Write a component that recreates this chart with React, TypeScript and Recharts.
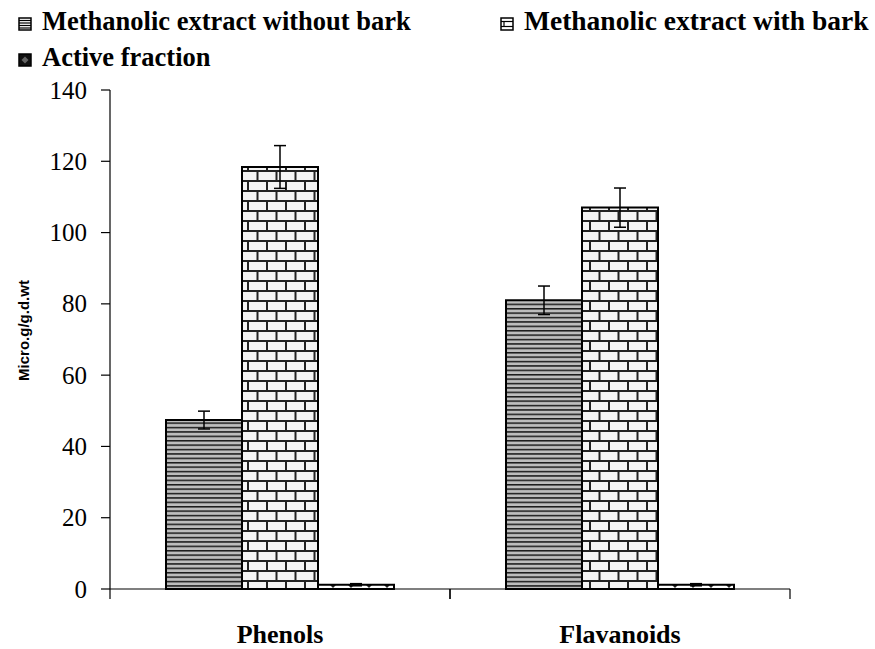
import React from "react";
import { Bar, BarChart, ErrorBar, XAxis, YAxis } from "recharts";

const categories = ["Phenols", "Flavanoids"];
const withoutBark = [47.4, 81.0];
const withoutBarkErr = [2.5, 4.0];
const withBark = [118.4, 107.0];
const withBarkErr = [6.0, 5.5];
const activeFraction = [1.2, 1.2];
const activeFractionErr = [0.3, 0.3];
const yTicks = [0, 20, 40, 60, 80, 100, 120, 140];

const series = [
  { key: "withoutBark", name: "Methanolic extract without bark", fill: "url(#hlines)" },
  { key: "withBark", name: "Methanolic extract with bark", fill: "url(#bricks)" },
  { key: "active", name: "Active fraction", fill: "url(#dots)" },
];

const data = categories.map((name, i) => ({
  name,
  withoutBark: withoutBark[i],
  withoutBarkErr: withoutBarkErr[i],
  withBark: withBark[i],
  withBarkErr: withBarkErr[i],
  active: activeFraction[i],
  activeErr: activeFractionErr[i],
}));

const serif = "'Liberation Serif', 'Times New Roman', serif";
const sans = "'Liberation Sans', Arial, sans-serif";

const PatternDefs = () => (
  <defs>
    <pattern id="hlines" patternUnits="userSpaceOnUse" width={8} height={4.4}>
      <rect width={8} height={4.4} fill="#bdbdbd" />
      <rect y={0} width={8} height={1.5} fill="#1a1a1a" />
    </pattern>
    <pattern id="bricks" patternUnits="userSpaceOnUse" width={19} height={20}>
      <rect width={19} height={20} fill="#f4f4f4" />
      <rect y={0} width={19} height={2} fill="#222" />
      <rect y={10} width={19} height={2} fill="#222" />
      <rect x={0} y={0} width={2} height={10} fill="#222" />
      <rect x={9.5} y={10} width={2} height={10} fill="#222" />
    </pattern>
    <pattern id="dots" patternUnits="userSpaceOnUse" width={18} height={6}>
      <rect width={18} height={6} fill="#fff" />
      <path d="M9 0 L12 3 L9 6 L6 3 Z" fill="#222" />
    </pattern>
  </defs>
);

const LegendIcon = ({ kind }: { kind: number }) => (
  <svg width={14} height={14} style={{ marginRight: 10, verticalAlign: "-1px" }}>
    {kind === 0 && (
      <g>
        <rect x={1} y={1} width={12} height={12} fill="#fff" stroke="#000" strokeWidth={1.5} />
        {[3.5, 6, 8.5, 11].map((yy) => (
          <line key={yy} x1={1} x2={13} y1={yy} y2={yy} stroke="#000" strokeWidth={1.2} />
        ))}
      </g>
    )}
    {kind === 1 && (
      <g>
        <rect x={1} y={1} width={12} height={12} fill="#fff" stroke="#000" strokeWidth={1.5} />
        <line x1={1} x2={13} y1={4.5} y2={4.5} stroke="#000" strokeWidth={1.2} />
        <line x1={1} x2={13} y1={9.5} y2={9.5} stroke="#000" strokeWidth={1.2} />
        <line x1={4} x2={4} y1={4.5} y2={9.5} stroke="#000" strokeWidth={1.2} />
      </g>
    )}
    {kind === 2 && (
      <g>
        <rect x={1} y={1} width={12} height={12} fill="#111" stroke="#000" strokeWidth={1.5} />
        <path d="M7 3.5 L10.5 7 L7 10.5 L3.5 7 Z" fill="#fff" opacity={0.35} />
      </g>
    )}
  </svg>
);

const legendItem: React.CSSProperties = { position: "absolute", whiteSpace: "nowrap" };

const ChartLegend = () => (
  <div
    style={{
      position: "absolute",
      left: 0,
      top: 0,
      width: 875,
      fontFamily: serif,
      fontWeight: "bold",
      fontSize: 26.5,
      lineHeight: "34px",
      color: "#000",
    }}
  >
    <div style={{ ...legendItem, left: 18, top: 4 }}>
      <LegendIcon kind={0} />
      {series[0].name}
    </div>
    <div style={{ ...legendItem, left: 500, top: 4, fontSize: 27.5 }}>
      <LegendIcon kind={1} />
      {series[1].name}
    </div>
    <div style={{ ...legendItem, left: 18, top: 40 }}>
      <LegendIcon kind={2} />
      {series[2].name}
    </div>
  </div>
);

const CategoryTick = (props: any) => {
  const { x, y, payload } = props;
  const half = 170;
  return (
    <g>
      <line x1={x - half} y1={y - 8} x2={x - half} y2={y + 2} stroke="#000" strokeWidth={1.2} />
      <line x1={x + half} y1={y - 8} x2={x + half} y2={y + 2} stroke="#000" strokeWidth={1.2} />
      <text x={x} y={y + 46} textAnchor="middle" style={{ fontFamily: serif, fontWeight: "bold", fontSize: 26 }} fill="#000">
        {payload.value}
      </text>
    </g>
  );
};

const ValueTick = (props: any) => {
  const { x, y, payload } = props;
  return (
    <text x={x - 12} y={y} textAnchor="end" dominantBaseline="central" style={{ fontFamily: serif, fontSize: 25 }} fill="#000">
      {payload.value}
    </text>
  );
};

export default function App() {
  return (
    <div style={{ position: "absolute", left: 0, top: 0, width: 875, height: 649, background: "#fff" }}>
      <BarChart
        width={875}
        height={649}
        data={data}
        margin={{ top: 90, right: 85, left: 10, bottom: 10 }}
        barCategoryGap={56}
        barGap={0}
      >
        <PatternDefs />
        <XAxis
          dataKey="name"
          axisLine={{ stroke: "#000", strokeWidth: 1.2 }}
          tickLine={false}
          tick={<CategoryTick />}
          height={50}
          interval={0}
        />
        <YAxis
          domain={[0, 140]}
          ticks={yTicks}
          interval={0}
          width={100}
          axisLine={{ stroke: "#000", strokeWidth: 1.2 }}
          tickLine={{ stroke: "#000", strokeWidth: 1.2 }}
          tickSize={9}
          tick={<ValueTick />}
          label={{
            value: "Micro.g/g.d.wt",
            content: (p: any) => {
              const vb = p.viewBox;
              const cx = vb.x + 13;
              const cy = vb.y + vb.height / 2 - 9;
              return (
                <text
                  x={cx}
                  y={cy}
                  transform={`rotate(-90 ${cx} ${cy})`}
                  textAnchor="middle"
                  dominantBaseline="central"
                  style={{ fontFamily: sans, fontWeight: "bold", fontSize: 15 }}
                  fill="#000"
                >
                  Micro.g/g.d.wt
                </text>
              );
            },
          }}
        />
        <Bar dataKey="withoutBark" name={series[0].name} fill={series[0].fill} stroke="#000" strokeWidth={2} isAnimationActive={false}>
          <ErrorBar dataKey="withoutBarkErr" width={6} stroke="#000" strokeWidth={1.5} />
        </Bar>
        <Bar dataKey="withBark" name={series[1].name} fill={series[1].fill} stroke="#000" strokeWidth={2} isAnimationActive={false}>
          <ErrorBar dataKey="withBarkErr" width={6} stroke="#000" strokeWidth={1.5} />
        </Bar>
        <Bar dataKey="active" name={series[2].name} fill={series[2].fill} stroke="#000" strokeWidth={2} isAnimationActive={false}>
          <ErrorBar dataKey="activeErr" width={6} stroke="#000" strokeWidth={1.5} />
        </Bar>
      </BarChart>
      <ChartLegend />
    </div>
  );
}
